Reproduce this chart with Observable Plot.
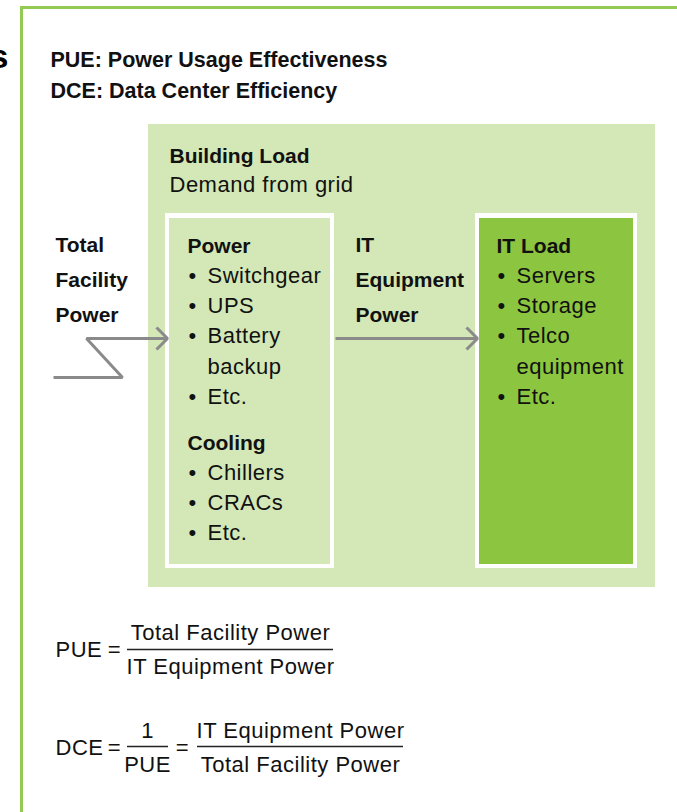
<!DOCTYPE html>
<html>
<head>
<meta charset="utf-8">
<script src="https://cdn.jsdelivr.net/npm/d3@7"></script>
<script src="https://cdn.jsdelivr.net/npm/@observablehq/plot@0.6"></script>
<style>
  html, body { margin: 0; padding: 0; background: #ffffff; }
</style>
</head>
<body>
<div id="chart"></div>
<script>
// ---- text content ----
const headerLines = ["PUE: Power Usage Effectiveness", "DCE: Data Center Efficiency"];
const buildingTitle = "Building Load";
const buildingSubtitle = "Demand from grid";
const facilityLabel = ["Total", "Facility", "Power"];
const itPowerLabel = ["IT", "Equipment", "Power"];
const powerTitle = "Power";
const powerItems = [["Switchgear"], ["UPS"], ["Battery", "backup"], ["Etc."]];
const coolingTitle = "Cooling";
const coolingItems = [["Chillers"], ["CRACs"], ["Etc."]];
const itLoadTitle = "IT Load";
const itLoadItems = [["Servers"], ["Storage"], ["Telco", "equipment"], ["Etc."]];
const pueFormula = ["PUE", "=", "Total Facility Power", "IT Equipment Power"];
const dceFormula = ["DCE", "=", "1", "PUE", "=", "IT Equipment Power", "Total Facility Power"];
const edgeGlyph = "s";

// ---- colours ----
const C = {frame: "#93cb52", building: "#d3e8b6", itLoad: "#8cc53f", arrow: "#8a8a8a", text: "#111111"};

// ---- layout (pixel space of the 677x812 canvas) ----
const W = 677, H = 812, STEP = 30.3;
const headerRows = [], boldRows = [], normalRows = [], bulletRows = [];

headerLines.forEach((t, i) => headerRows.push({x: 50, y: 66 + i * 31.5, text: t}));
boldRows.push({x: 169, y: 162, text: buildingTitle});
normalRows.push({x: 169, y: 191, text: buildingSubtitle});
facilityLabel.forEach((t, i) => boldRows.push({x: 55, y: 251 + i * 35, text: t}));
itPowerLabel.forEach((t, i) => boldRows.push({x: 355, y: 251 + i * 35, text: t}));

function addList(title, items, x, y0) {
  boldRows.push({x, y: y0, text: title});
  let y = y0;
  items.forEach(item => item.forEach((line, j) => {
    y += STEP;
    if (j === 0) bulletRows.push({x: x + 1, y});
    normalRows.push({x: x + 20, y, text: line});
  }));
}
addList(powerTitle, powerItems, 187, 252);
addList(coolingTitle, coolingItems, 187, 449);
addList(itLoadTitle, itLoadItems, 496, 252);

// formulas
const formulaStart = [
  {x: 55, y: 656, text: pueFormula[0]},
  {x: 55, y: 754, text: dceFormula[0]}
];
const formulaMid = [
  {x: 114, y: 656, text: pueFormula[1]},
  {x: 230, y: 639, text: pueFormula[2]},
  {x: 230, y: 673, text: pueFormula[3]},
  {x: 114, y: 754, text: dceFormula[1]},
  {x: 147, y: 737, text: dceFormula[2]},
  {x: 147, y: 771, text: dceFormula[3]},
  {x: 182, y: 754, text: dceFormula[4]},
  {x: 300, y: 737, text: dceFormula[5]},
  {x: 300, y: 771, text: dceFormula[6]}
];
const fractionBars = [
  {y: 649, x1: 127, x2: 333},
  {y: 746, x1: 127, x2: 168},
  {y: 746, x1: 197, x2: 403}
];

// boxes
const buildingBox = [{x1: 148, x2: 655, y1: 124, y2: 587}];
const whiteFrames = [
  {x1: 165, x2: 334, y1: 213, y2: 568},
  {x1: 475, x2: 637, y1: 213, y2: 568}
];
const innerBoxes = [
  {x1: 169, x2: 330, y1: 218, y2: 564, fill: C.building},
  {x1: 479, x2: 633, y1: 218, y2: 564, fill: C.itLoad}
];

// arrows (polylines)
const arrowPaths = [
  {id: "feed", pts: [[53, 377], [122, 377], [86, 338], [167, 338]]},
  {id: "feedHead", pts: [[156, 327], [167, 338], [156, 349]]},
  {id: "it", pts: [[335, 338], [477, 338]]},
  {id: "itHead", pts: [[466, 327], [477, 338], [466, 349]]}
];
const arrowPoints = arrowPaths.flatMap(p => p.pts.map(([x, y]) => ({id: p.id, x, y})));

const FONT = "'Liberation Sans', Arial, 'DejaVu Sans', sans-serif";
const NORMAL = {textAnchor: "start", lineAnchor: "bottom", fontSize: 22, fill: C.text};

const chart = Plot.plot({
  width: W,
  height: H,
  margin: 0,
  x: {domain: [0, W], range: [0, W], axis: null},
  y: {domain: [0, H], range: [0, H], axis: null},
  style: {background: "#ffffff", fontFamily: FONT},
  marks: [
    // outer frame
    Plot.ruleX([21], {y1: 6, y2: H, stroke: C.frame, strokeWidth: 3}),
    Plot.ruleY([7], {x1: 20, x2: W, stroke: C.frame, strokeWidth: 3}),
    // boxes
    Plot.rect(buildingBox, {x1: "x1", x2: "x2", y1: "y1", y2: "y2", fill: C.building}),
    Plot.rect(whiteFrames, {x1: "x1", x2: "x2", y1: "y1", y2: "y2", fill: "#ffffff"}),
    Plot.rect(innerBoxes, {x1: "x1", x2: "x2", y1: "y1", y2: "y2", fill: "fill"}),
    // arrows
    Plot.line(arrowPoints, {x: "x", y: "y", z: "id", stroke: C.arrow, strokeWidth: 3, strokeLinejoin: "miter", strokeLinecap: "butt"}),
    // fraction bars
    Plot.ruleY(fractionBars, {y: "y", x1: "x1", x2: "x2", stroke: "#222222", strokeWidth: 1.5}),
    // texts
    Plot.text(headerRows, {x: "x", y: "y", text: "text", textAnchor: "start", lineAnchor: "bottom", fontSize: 21.5, fontWeight: "bold", fill: C.text}),
    Plot.text(boldRows, {x: "x", y: "y", text: "text", textAnchor: "start", lineAnchor: "bottom", fontSize: 21, fontWeight: "bold", fill: C.text}),
    Plot.text(normalRows, {x: "x", y: "y", text: "text", ...NORMAL}),
    Plot.text(bulletRows, {x: "x", y: "y", text: () => "•", ...NORMAL}),
    Plot.text(formulaStart, {x: "x", y: "y", text: "text", ...NORMAL}),
    Plot.text(formulaMid, {x: "x", y: "y", text: "text", ...NORMAL, textAnchor: "middle"}),
    // clipped glyph at the left edge
    Plot.text([{x: 8, y: 67, text: edgeGlyph}], {x: "x", y: "y", text: "text", textAnchor: "end", lineAnchor: "bottom", fontSize: 34, fontWeight: "bold", fill: "#000000"})
  ]
});
// slightly open letter spacing for the regular-weight texts
chart.querySelectorAll("g").forEach(g => {
  if (g.querySelector(":scope > text") && g.getAttribute("font-size") === "22") {
    g.setAttribute("letter-spacing", "0.5");
  }
});
document.getElementById("chart").appendChild(chart);
</script>
</body>
</html>
